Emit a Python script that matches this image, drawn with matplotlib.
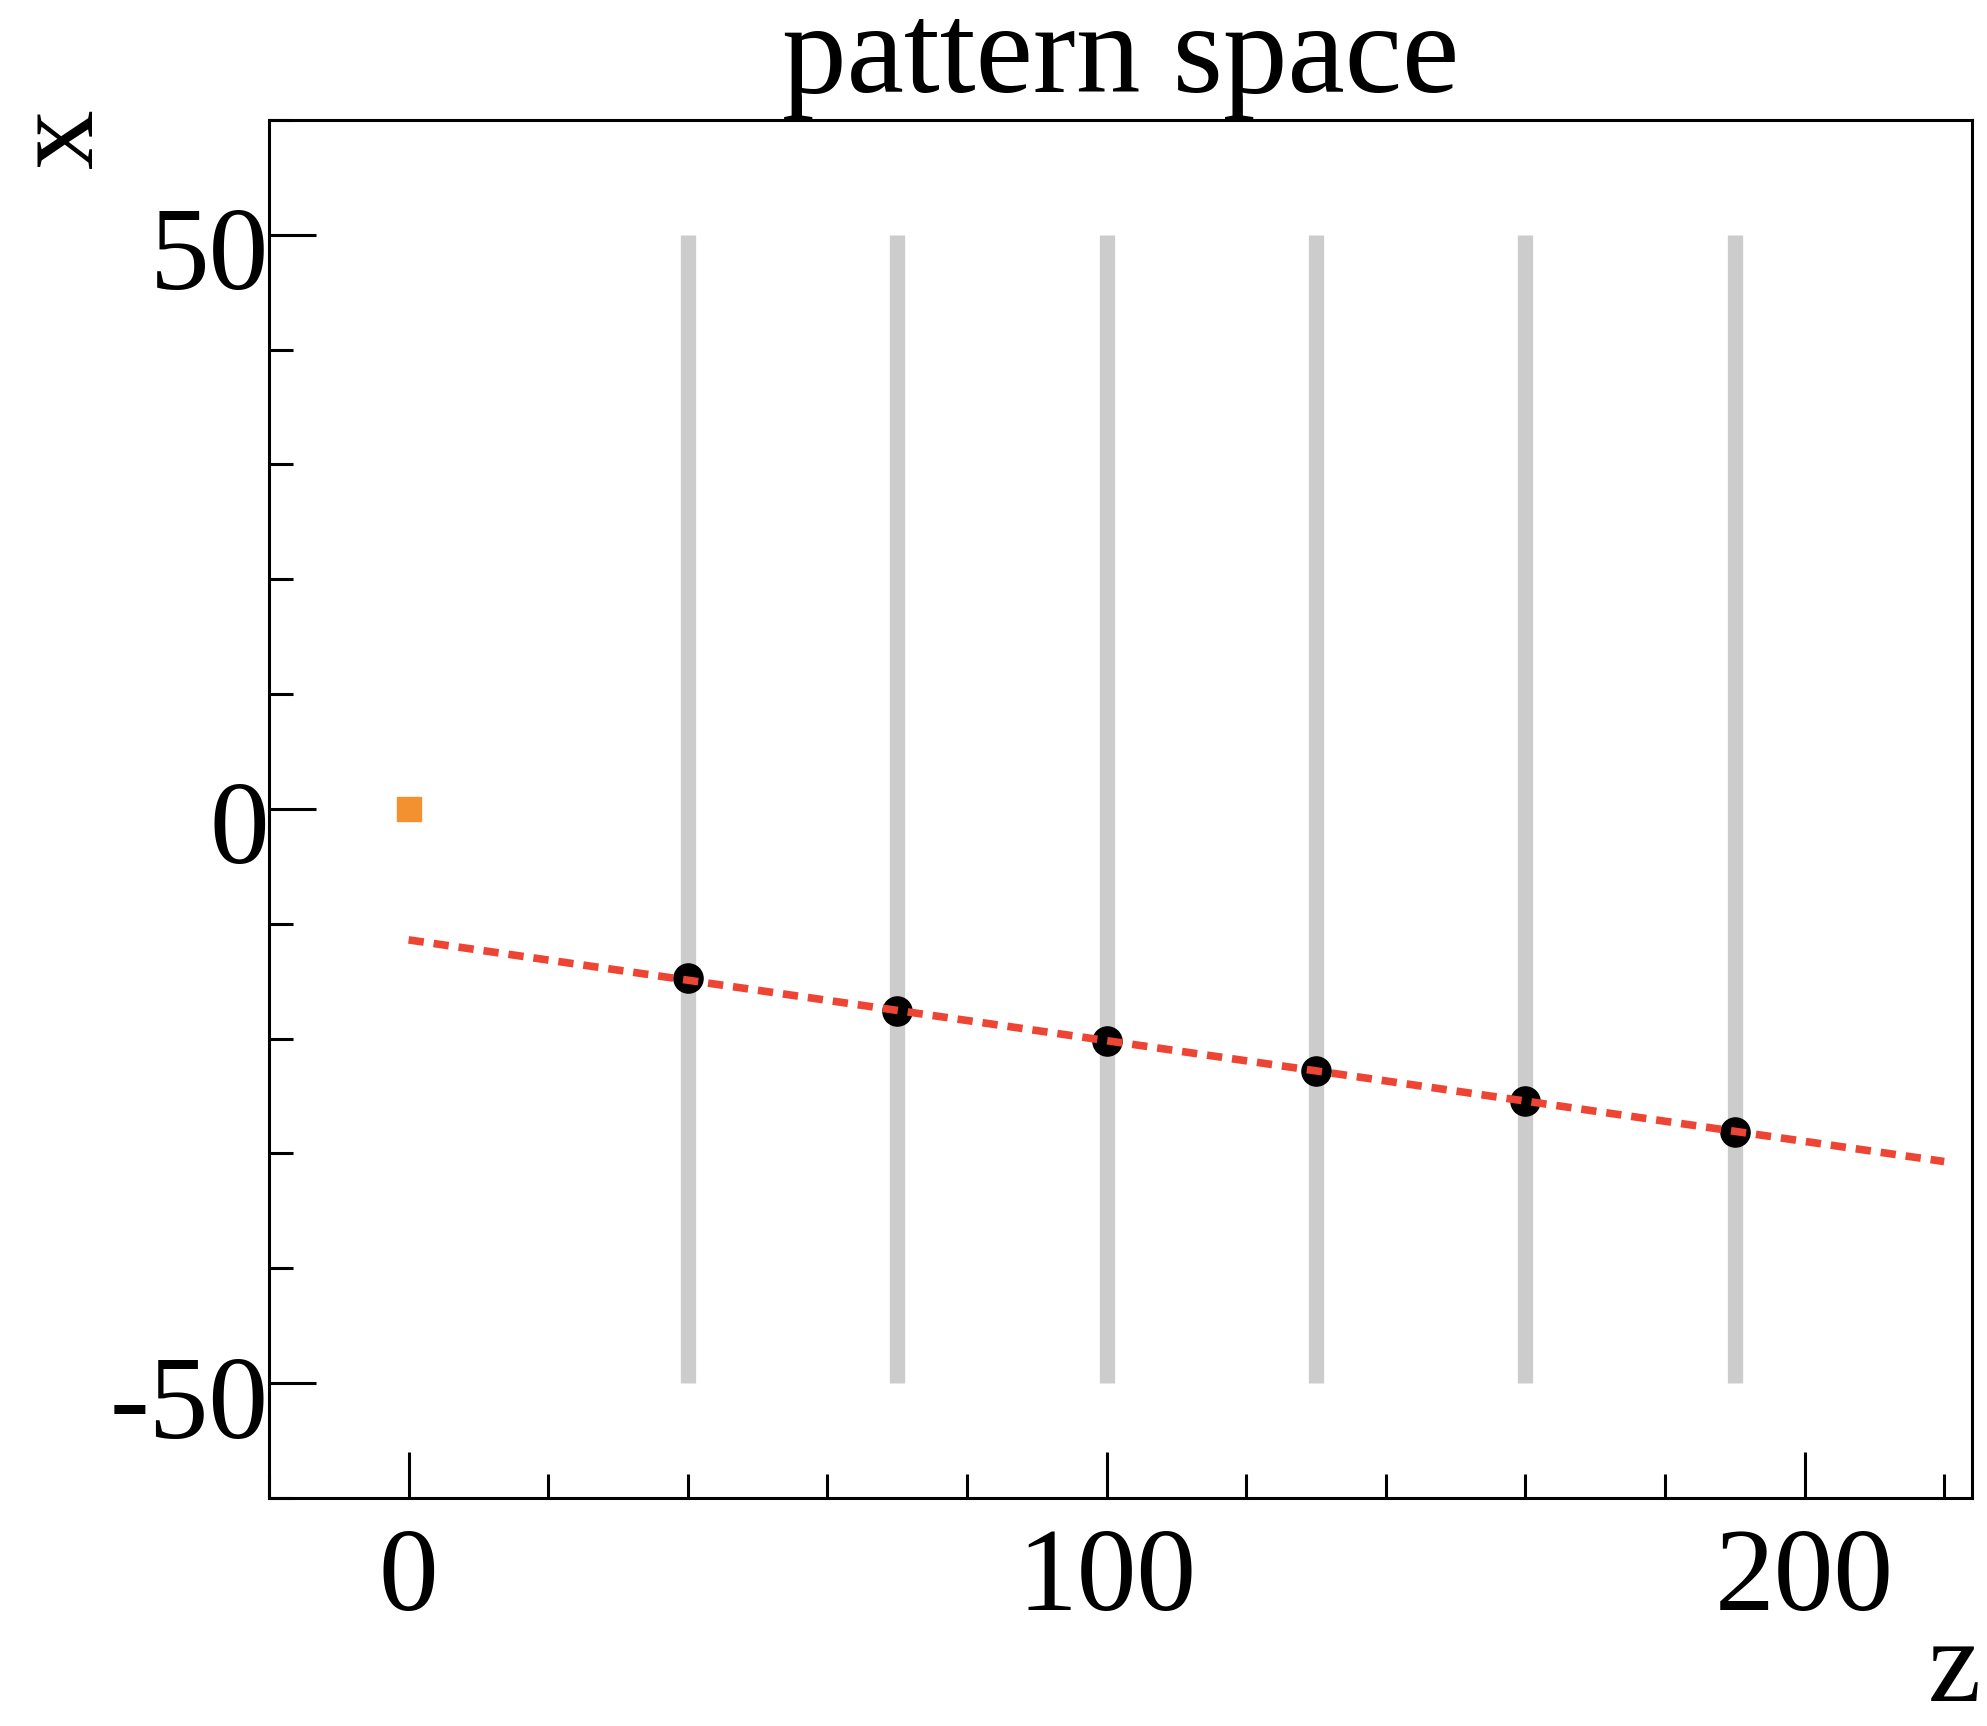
import numpy as np
import matplotlib.pyplot as plt
import matplotlib.transforms as mtransforms
from matplotlib.ticker import MultipleLocator

plt.rcParams['font.family'] = ['Liberation Serif', 'DejaVu Serif']
plt.rcParams['axes.unicode_minus'] = False

# detector planes (z positions) and their x extent
plane_z = [40, 70, 100, 130, 160, 190]
plane_x_lo = -50
plane_x_hi = 50

# measured hits
hit_z = [40, 70, 100, 130, 160, 190]
hit_x = [-14.7, -17.6, -20.2, -22.8, -25.4, -28.1]

# fitted track
fit_z = [0, 220]
fit_x = [-11.4, -30.7]

# vertex
vtx_z = [0]
vtx_x = [0]

fig = plt.figure(figsize=(19.87, 17.26), dpi=100)
ax = fig.add_axes([0.1354, 0.1321, 0.8571, 0.7984])

# planes
ax.vlines(plane_z, plane_x_lo, plane_x_hi, colors='#cccccc', linewidth=11, zorder=1)

# hits
ax.plot(hit_z, hit_x, 'o', color='black', markersize=21, zorder=2)

# track fit
ax.plot(fit_z, fit_x, color='#ee4433', linewidth=5.5, linestyle=(0, (2.0, 1.3)), zorder=3)

# vertex
ax.plot(vtx_z, vtx_x, 's', color='#f39130', markersize=17, zorder=3)

ax.set_xlim(-20, 224)
ax.set_ylim(-60, 60)

ax.xaxis.set_major_locator(MultipleLocator(100))
ax.xaxis.set_minor_locator(MultipleLocator(20))
ax.yaxis.set_major_locator(MultipleLocator(50))
ax.yaxis.set_minor_locator(MultipleLocator(10))

for s in ax.spines.values():
    s.set_linewidth(2.2)

ax.tick_params(which='both', direction='in', top=False, right=False, width=2.2, labelsize=86)
ax.tick_params(axis='x', which='major', length=33, pad=21)
ax.tick_params(axis='x', which='minor', length=17)
ax.tick_params(axis='y', which='major', length=34, pad=0)
ax.tick_params(axis='y', which='minor', length=17)

# ROOT-style: y labels sit a bit below their ticks
shift = mtransforms.ScaledTranslation(0, -9.5 / 72, fig.dpi_scale_trans)
for t in ax.yaxis.get_major_ticks():
    t.label1.set_verticalalignment('center_baseline')
    t.label1.set_transform(t.label1.get_transform() + shift)

ax.set_title('pattern space', fontsize=93, pad=0)

fig.text(0.032, 0.92, 'x', fontsize=86, rotation=90, ha='center', va='center')
fig.text(0.997, 0.0, 'z', fontsize=86, ha='right', va='bottom')

fig.savefig('out.png', dpi=100)
